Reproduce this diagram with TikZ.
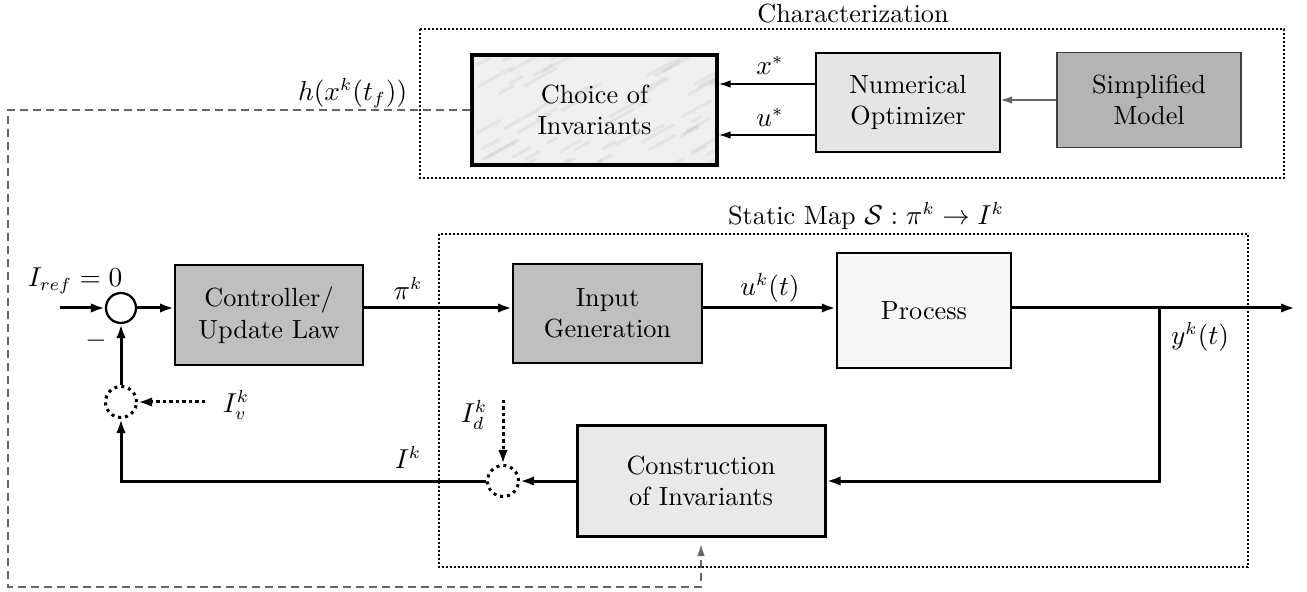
\documentclass[tikz,border=0pt]{standalone}
\usetikzlibrary{arrows.meta,calc}
\begin{document}
\begin{tikzpicture}[x=0.4pt,y=-0.4pt,
  every node/.style={font=\fontsize{10.5}{12.6}\selectfont},
  blk/.style={draw, align=center, inner sep=2pt},
  sigarr/.style={line width=1.2pt, -{Latex[length=5.6pt,width=3.8pt]}},
  dsig/.style={line width=1.2pt, dash pattern=on 1.4pt off 1.2pt, -{Latex[length=5.6pt,width=3.8pt]}},
  thinarr/.style={line width=0.5pt, -{Latex[length=4.6pt,width=3pt]}},
  dotbox/.style={line width=0.5pt, dash pattern=on 0.8pt off 0.8pt},
  fbline/.style={line width=0.5pt, gray!80!black, dash pattern=on 3.2pt off 2pt},
  sumc/.style={circle, draw, line width=0.9pt, minimum size=12pt, inner sep=0pt},
  dsumc/.style={circle, draw, line width=1.2pt, dash pattern=on 1.2pt off 1.6pt, minimum size=12.4pt, inner sep=0pt}
]
\useasboundingbox (0,0) rectangle (1307,592);

% ---------- characterization part ----------
\draw[dotbox] (420,29) rectangle (1284,178);
\node (chartitle) at (853,14) {Characterization};

% marbled background of the invariant-choice block
\fill[gray!12] (472,55) rectangle (717,165);
\begin{scope}
  \clip (472,55) rectangle (717,165);
  \pgfmathsetseed{17}
  \foreach \i in {1,...,70}{
    \pgfmathsetmacro{\px}{472+260*rnd}
    \pgfmathsetmacro{\py}{50+125*rnd}
    \pgfmathsetmacro{\ln}{8+26*rnd}
    \draw[gray!60, opacity=0.18, line width=1.3pt, line cap=round]
      (\px,\py) -- ++(\ln,-0.55*\ln);
  }
\end{scope}
\node[blk, line width=1.6pt, minimum width=98pt, minimum height=44pt]
  (choice) at (594.5,110) {Choice of\\Invariants};
\node[blk, line width=0.5pt, fill=gray!20, minimum width=73.6pt, minimum height=39.6pt]
  (num) at (908,102.5) {Numerical\\Optimizer};
\node[blk, line width=0.5pt, draw=black!75, fill=gray!59, minimum width=73.6pt, minimum height=38pt]
  (simp) at (1149,100) {Simplified\\Model};

\coordinate (xrow) at (0,84);
\coordinate (urow) at (0,135);
\draw[thinarr] (num.west |- xrow) -- (choice.east |- xrow);
\draw[thinarr] (num.west |- urow) -- (choice.east |- urow);
\node (xlab) at (770,65) {$x^{*}$};
\node (ulab) at (770,117) {$u^{*}$};
\draw[thinarr, draw=gray!80!black] (simp.west) -- (simp.west -| num.east);

\node[anchor=east] (hlab) at (416,93) {$h(x^k(t_f))$};

% ---------- static map part ----------
\draw[dotbox] (439,234) rectangle (1248,567);
\node (maptitle) at (866,216) {Static Map $\mathcal{S}:\pi^k\rightarrow I^k$};

\node[sumc] (sum) at (121,308) {};
\node[blk, line width=0.8pt, fill=gray!50, minimum width=75.2pt, minimum height=40pt]
  (ctrl) at (269,315) {Controller/\\Update Law};
\node[blk, line width=0.8pt, fill=gray!50, minimum width=75.6pt, minimum height=39.6pt]
  (inp) at (607.5,313.5) {Input\\Generation};
\node[blk, line width=1pt, fill=gray!6, minimum width=69.6pt, minimum height=46pt]
  (proc) at (924,310.5) {Process};
\node[blk, line width=1.2pt, fill=gray!17, minimum width=99.2pt, minimum height=44pt]
  (cons) at (701,481) {Construction\\of Invariants};

\node[dsumc] (vsum) at (121,402) {};
\node[dsumc] (dsum) at (503,481) {};

\coordinate (refin) at (60,308);
\coordinate (out) at (1295,308);
\coordinate (branch) at (1159,308);
\coordinate (vin) at (205,402);
\coordinate (din) at (503,400);
\coordinate (fbcorner1) at (8,587);

% forward path
\draw[sigarr] (refin) -- (sum.west);
\draw[sigarr] (sum.east) -- (sum.east -| ctrl.west);
\draw[sigarr] (sum.east -| ctrl.east) -- (sum.east -| inp.west);
\draw[sigarr] (sum.east -| inp.east) -- (sum.east -| proc.west);
\draw[sigarr] (sum.east -| proc.east) -- (out);

% measurement feedback
\draw[sigarr] (branch) |- (cons.east);
\draw[sigarr] (cons.west) -- (dsum.east);
\draw[sigarr] (dsum.west) -| (vsum.south);
\draw[sigarr] (vsum.north) -- (sum.south);

% disturbances
\draw[dsig] (vin) -- (vsum.east);
\draw[dsig] (din) -- (dsum.north);

% labels
\node (reflab) at (75,281) {$I_{ref}=0$};
\node (minus) at (96,341) {$-$};
\node (pilab) at (408,288) {$\pi^k$};
\node (ulab2) at (770,288) {$u^k(t)$};
\node (ylab) at (1200,337) {$y^k(t)$};
\node (ilab) at (408,457) {$I^k$};
\node (ivlab) at (236,405) {$I_v^k$};
\node (idlab) at (474,415) {$I_d^k$};

% invariant choice fed to the construction block
\draw[fbline, -{Latex[length=4.6pt,width=3pt]}] (choice.west) -| (fbcorner1) -| ([yshift=-2.8pt]cons.south);
\end{tikzpicture}
\end{document}
